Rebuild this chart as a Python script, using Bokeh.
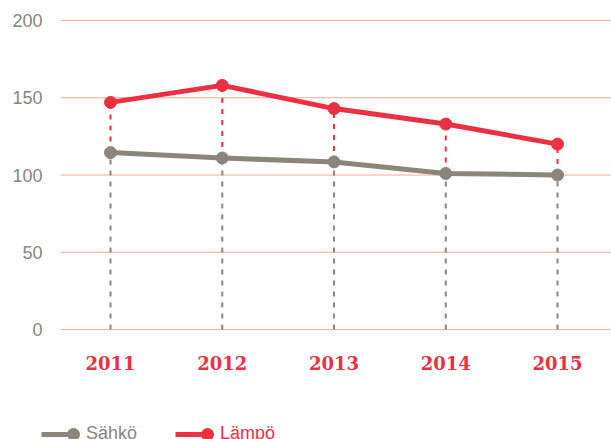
from bokeh.plotting import figure
from bokeh.models import ColumnDataSource, FixedTicker, Legend, LegendItem, Range1d
from bokeh.embed import file_html
from bokeh.resources import INLINE

years = [2011, 2012, 2013, 2014, 2015]
sahko = [114.5, 111, 108.5, 101, 100]
lampo = [147, 158, 143, 133, 120]
y_ticks = [0, 50, 100, 150, 200]
series_names = ["Sähkö", "Lämpö"]

RED = "#ec3043"
GREY = "#8b857a"
GRID = "#f6a899"

src = ColumnDataSource(dict(x=years, s=sahko, l=lampo, z=[0] * len(years)))

X0, X1 = 2010.0157, 2015.483
GRID_X0 = 2010.553
grid_src = ColumnDataSource(dict(y=y_ticks, x0=[GRID_X0] * len(y_ticks), x1=[X1 + 1] * len(y_ticks)))

p = figure(width=611, height=439, output_backend="svg", toolbar_location=None,
           x_range=Range1d(X0, X1), y_range=Range1d(-71.15, 212.94),
           min_border_left=0, min_border_right=0, min_border_top=0, min_border_bottom=0)
p.outline_line_color = None
p.background_fill_color = "white"
p.border_fill_color = "white"

p.xgrid.visible = False
p.ygrid.visible = False
p.segment(x0="x0", y0="y", x1="x1", y1="y", source=grid_src, line_color=GRID, line_width=1)

p.yaxis.fixed_location = GRID_X0
p.yaxis.ticker = FixedTicker(ticks=y_ticks)
p.yaxis.axis_line_color = None
p.yaxis.major_tick_line_color = None
p.yaxis.minor_tick_line_color = None
p.yaxis.major_tick_out = 0
p.yaxis.major_tick_in = 0
p.yaxis.minor_tick_out = 0
p.yaxis.major_label_standoff = 18
p.yaxis.major_label_text_font = "Liberation Sans"
p.yaxis.major_label_text_font_size = "18px"
p.yaxis.major_label_text_color = GREY

p.xaxis.fixed_location = 0
p.xaxis.ticker = FixedTicker(ticks=years)
p.xaxis.major_label_overrides = {y: str(y) for y in years}
p.xaxis.axis_line_color = None
p.xaxis.axis_line_alpha = 0
p.xaxis.major_tick_line_color = None
p.xaxis.minor_tick_line_color = None
p.xaxis.major_tick_out = 0
p.xaxis.major_tick_in = 0
p.xaxis.minor_tick_out = 0
p.xaxis.major_label_standoff = 26
p.xaxis.major_label_text_font = "DejaVu Serif"
p.xaxis.major_label_text_font_style = "bold"
p.xaxis.major_label_text_font_size = "18px"
p.xaxis.major_label_text_color = RED

p.segment(x0="x", y0="z", x1="x", y1="s", source=src, line_color=GREY, line_width=2, line_dash="5 6")
p.segment(x0="x", y0="s", x1="x", y1="l", source=src, line_color=RED, line_width=2, line_dash="5 6")

ls = p.line("x", "s", source=src, line_color=GREY, line_width=5)
cs = p.scatter("x", "s", source=src, size=12, fill_color=GREY, line_color=GREY)
ll = p.line("x", "l", source=src, line_color=RED, line_width=5)
cl = p.scatter("x", "l", source=src, size=12, fill_color=RED, line_color=RED)

common = dict(orientation="horizontal",
              padding=0, margin=0, border_line_color=None, background_fill_alpha=0,
              label_text_font="Liberation Sans", label_text_font_size="18px")
# line part of each legend key, with its label
leg1 = Legend(items=[LegendItem(label=series_names[0], renderers=[ls])],
              location=(41, -5), glyph_width=38, glyph_height=20, label_height=20,
              label_standoff=7, label_text_color=GREY, **common)
leg2 = Legend(items=[LegendItem(label=series_names[1], renderers=[ll])],
              location=(175, -5), glyph_width=38, glyph_height=20, label_height=20,
              label_standoff=7, label_text_color=RED, **common)
# dot at the right end of each legend key (marker size = 0.4 * glyph box)
dot1 = Legend(items=[LegendItem(label=" ", renderers=[cs])],
              location=(58, -10), glyph_width=30, glyph_height=30, label_height=30,
              label_standoff=0, label_width=0, label_text_color=GREY, **common)
dot2 = Legend(items=[LegendItem(label=" ", renderers=[cl])],
              location=(192, -10), glyph_width=30, glyph_height=30, label_height=30,
              label_standoff=0, label_width=0, label_text_color=RED, **common)
for lg in (leg1, leg2, dot1, dot2):
    p.add_layout(lg)

open("out.html", "w").write(file_html(p, INLINE))
